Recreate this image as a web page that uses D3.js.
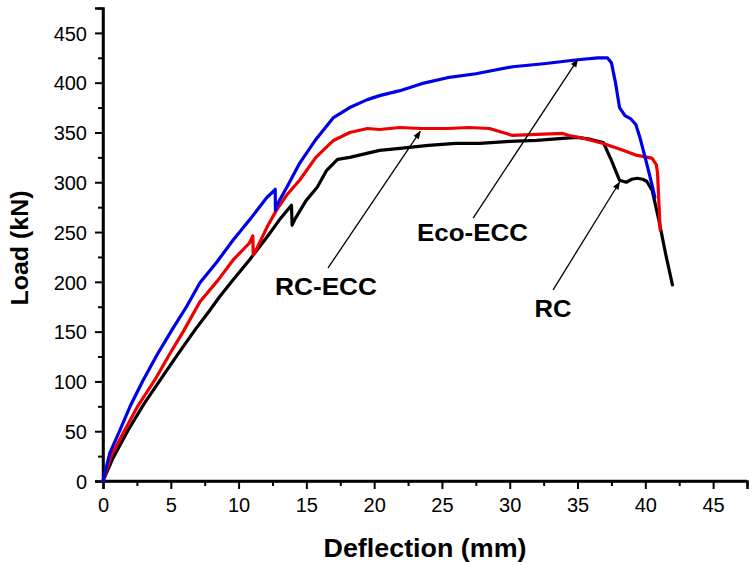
<!DOCTYPE html>
<html><head><meta charset="utf-8">
<script src="https://cdn.jsdelivr.net/npm/d3@7"></script>
<style>
html,body{margin:0;padding:0;background:#fff;}
svg{display:block;font-family:"Liberation Sans",Arial,sans-serif;}
</style></head>
<body><svg id="chart" width="756" height="565"></svg>
<script>
// Data
const xTicks = [0,5,10,15,20,25,30,35,40,45];
const yTicks = [0,50,100,150,200,250,300,350,400,450];
const seriesNames = ["Eco-ECC","RC-ECC","RC"];
const seriesColors = ["#0000e6","#ee0000","#000000"];

const ecoDefl = [0,0.5,1.25,2.0,2.95,4.0,5.1,6.2,7.15,8.4,9.6,10.8,12.1,12.5,12.7,12.72,12.9,13.6,14.5,15.7,17.0,18.2,19.5,20.4,21.9,23.5,25.4,27.5,30.2,32.5,35.0,36.5,37.2,37.5,37.8,38.1,38.5,38.9,39.3,39.6,40.1,40.5,40.7];
const ecoLoad = [0,28,51,75,101,127,152,176,199,220,242,262,285,290,293,272,279,296,319,343,365,375,383,387,392,399,405,409,416,419,423,425,425,420,400,375,367,364,358,345,319,297,285];

const rceDefl = [0,0.6,1.6,2.6,3.8,4.9,6.0,7.15,8.5,9.6,10.8,11.05,11.08,11.4,12.1,12.8,13.6,14.5,15.7,17.0,18.2,19.5,20.4,21.9,23.5,25.4,27.0,28.5,29.5,30.2,32.0,33.9,34.4,35.5,36.9,38.2,39.4,40.2,40.5,40.8,40.9,41.0,41.1];
const rceLoad = [0,25,51,76,101,127,152,180,202,222,239,246,227,235,255,272,288,302,325,342,350,354,353,355,354,354,355,354,350,347,348,349,347,344,339,333,327,325,324,318,310,280,252];

const rcDefl = [0,0.7,1.85,3.0,4.2,5.5,6.8,7.8,8.6,9.6,10.8,12.1,13.0,13.9,13.95,14.2,15.0,15.8,16.5,17.3,18.2,20.4,21.9,24.0,26.0,27.8,30.0,32.0,33.9,35.0,36.0,36.9,37.5,38.1,38.6,39.0,39.4,39.8,40.1,40.5,41.0,41.5,42.0];
const rcLoad = [0,22,51,77,101,127,152,170,185,202,222,245,262,277,257,264,282,295,312,323,325,332,334,337,339,339,341,342,344,345,343,340,322,302,300,303,304,303,301,292,262,228,197];

// annotations: label, text centre (data), arrow start (data), arrow tip (data)
const annoLabels = ["Eco-ECC","RC-ECC","RC"];
const annoText = [[27.25,241],[16.45,187],[33.2,165]];
const annoWidth = [111,102,37];
const annoFrom = [[27.3,264],[16.6,214],[33.2,192]];
const annoTo = [[35.0,423],[23.4,351],[38.1,300]];

const svg = d3.select("#chart");
const x = d3.scaleLinear().domain([0,47.5]).range([103,747]);
const y = d3.scaleLinear().domain([0,475]).range([481,8]);

// axes
const fs = 20;
const xAxis = d3.axisBottom(x).tickValues(xTicks).tickSize(8).tickPadding(4).tickFormat(d3.format("d"));
const xMinor = d3.axisBottom(x).tickValues(d3.range(2.5,48,5)).tickSize(5).tickFormat("");
const yAxis = d3.axisLeft(y).tickValues(yTicks).tickSize(8).tickPadding(8).tickFormat(d3.format("d"));
const yMinor = d3.axisLeft(y).tickValues(d3.range(25,476,50)).tickSize(5).tickFormat("");

function styleAxis(g){
  g.select(".domain").attr("stroke","#000").attr("stroke-width",2.5);
  g.selectAll(".tick line").attr("stroke","#000").attr("stroke-width",2);
  g.selectAll(".tick text").attr("fill","#000").style("font-size",fs+"px").style("font-family","'Liberation Sans',Arial,sans-serif");
}
const gx = svg.append("g").attr("transform","translate(0,481)");
gx.call(xMinor); gx.call(styleAxis);
const gx2 = svg.append("g").attr("transform","translate(0,481)");
gx2.call(xAxis); gx2.call(styleAxis);
gx2.selectAll(".tick text").attr("dy","0.95em");
const gy = svg.append("g").attr("transform","translate(103,0)");
gy.call(yMinor); gy.call(styleAxis);
const gy2 = svg.append("g").attr("transform","translate(103,0)");
gy2.call(yAxis); gy2.call(styleAxis);
gy2.selectAll(".tick text").attr("dy","0.36em");
gy.select(".domain").attr("d","M0,"+y(475)+"V"+y(0));
gx.select(".domain").attr("d","M"+x(0)+",0H"+x(47.5));

// axis titles
svg.append("text").attr("x",425).attr("y",557).attr("text-anchor","middle")
  .attr("textLength",203).attr("lengthAdjust","spacingAndGlyphs")
  .style("font-size","26px").style("font-weight","bold").text("Deflection (mm)");
svg.append("text").attr("transform","translate(28,248) rotate(-90)").attr("text-anchor","middle")
  .attr("textLength",115).attr("lengthAdjust","spacingAndGlyphs")
  .style("font-size","24px").style("font-weight","bold").text("Load (kN)");

// curves
const line = d3.line().x(d=>x(d[0])).y(d=>y(d[1]));
const series = [
  d3.zip(ecoDefl,ecoLoad),
  d3.zip(rceDefl,rceLoad),
  d3.zip(rcDefl,rcLoad)
];
[2,1,0].forEach(i=>{
  svg.append("path").datum(series[i]).attr("d",line).attr("fill","none")
    .attr("stroke",seriesColors[i]).attr("stroke-width",3.2).attr("stroke-linejoin","round").attr("stroke-linecap","round");
});

// arrows
const defs = svg.append("defs");
defs.append("marker").attr("id","ah").attr("viewBox","0 0 10 10").attr("refX",9).attr("refY",5)
  .attr("markerWidth",11).attr("markerHeight",8).attr("markerUnits","userSpaceOnUse").attr("orient","auto")
  .append("path").attr("d","M0,1 L10,5 L0,9 Z").attr("fill","#000");
annoLabels.forEach((t,i)=>{
  svg.append("line").attr("x1",x(annoFrom[i][0])).attr("y1",y(annoFrom[i][1]))
    .attr("x2",x(annoTo[i][0])).attr("y2",y(annoTo[i][1]))
    .attr("stroke","#000").attr("stroke-width",1.3).attr("marker-end","url(#ah)");
  svg.append("text").attr("x",x(annoText[i][0])).attr("y",y(annoText[i][1]))
    .attr("text-anchor","middle").attr("textLength",annoWidth[i]).attr("lengthAdjust","spacingAndGlyphs")
    .style("font-size","23px").style("font-weight","bold").text(t);
});
</script></body></html>
